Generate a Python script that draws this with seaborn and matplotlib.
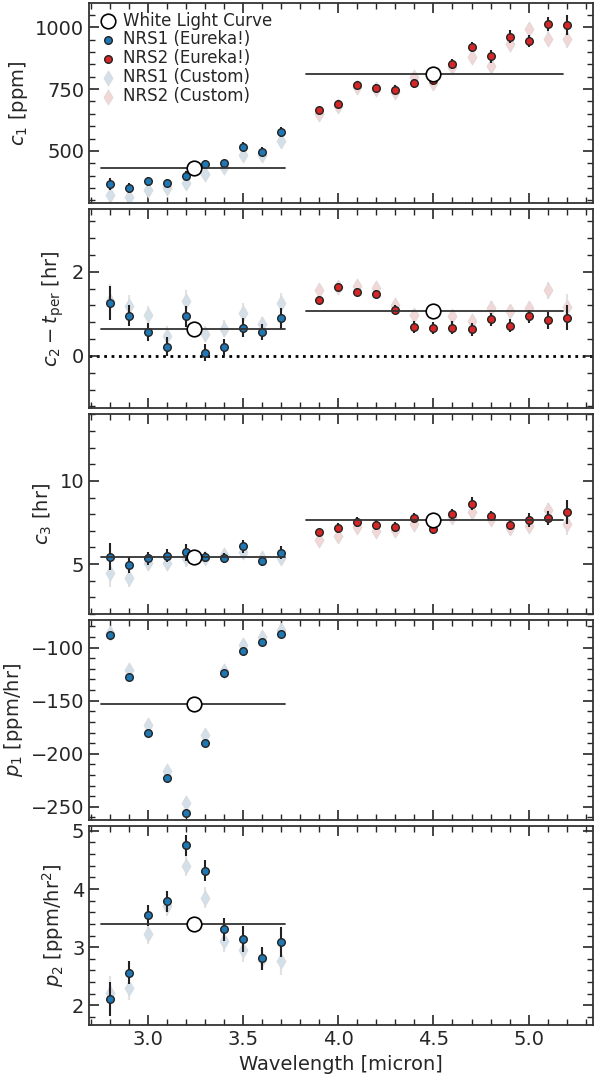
import numpy as np
import matplotlib
matplotlib.use("Agg")
import matplotlib.pyplot as plt
import seaborn as sns
from matplotlib.ticker import AutoMinorLocator

sns.set_style("ticks")
plt.rcParams['font.family'] = ['DejaVu Sans']

wl1 = [2.8, 2.9, 3.0, 3.1, 3.2, 3.3, 3.4, 3.5, 3.6, 3.7]
wl2 = [3.9, 4.0, 4.1, 4.2, 4.3, 4.4, 4.5, 4.6, 4.7, 4.8, 4.9, 5.0, 5.1, 5.2]
wl_white = [3.24, 4.5]
span1 = [2.75, 3.72]
span2 = [3.83, 5.18]

# c1
c1_e1 = [366, 349, 378, 370, 399, 445, 450, 517, 496, 576]
c1_e1err = [25, 20, 18, 18, 18, 18, 15, 18, 18, 20]
c1_c1 = [323, 315, 340, 349, 370, 408, 433, 483, 483, 538]
c1_e2 = [664, 689, 765, 756, 748, 773, 786, 853, 920, 882, 962, 945, 1013, 1008]
c1_e2err = [15, 15, 15, 15, 18, 18, 20, 20, 22, 25, 25, 25, 30, 40]
c1_c2 = [650, 680, 760, 750, 740, 798, 773, 840, 878, 845, 933, 992, 954, 954]
c1_white = [429, 811]

# c2 - t_per
c2_e1 = [1.26, 0.96, 0.57, 0.22, 0.94, 0.08, 0.20, 0.67, 0.57, 0.90]
c2_e1err = [0.4, 0.25, 0.22, 0.22, 0.25, 0.2, 0.2, 0.22, 0.18, 0.25]
c2_c1 = [1.31, 1.19, 0.97, 0.48, 1.31, 0.52, 0.65, 1.03, 0.75, 1.25]
c2_e2 = [1.33, 1.64, 1.52, 1.48, 1.10, 0.69, 0.66, 0.67, 0.63, 0.87, 0.72, 0.94, 0.85, 0.91]
c2_e2err = [0.1, 0.08, 0.1, 0.1, 0.1, 0.15, 0.15, 0.15, 0.15, 0.15, 0.15, 0.15, 0.2, 0.3]
c2_c2 = [1.56, 1.65, 1.67, 1.61, 1.21, 0.97, 1.07, 0.95, 0.82, 1.15, 1.07, 1.13, 1.56, 1.17]
c2_white = [0.63, 1.07]

# c3
c3_e1 = [5.44, 4.94, 5.34, 5.50, 5.71, 5.44, 5.34, 6.07, 5.20, 5.69]
c3_e1err = [0.8, 0.5, 0.4, 0.4, 0.5, 0.3, 0.3, 0.4, 0.3, 0.4]
c3_c1 = [4.44, 4.15, 5.04, 5.04, 5.34, 5.34, 5.54, 5.73, 5.34, 5.34]
c3_e2 = [6.92, 7.18, 7.56, 7.38, 7.22, 7.76, 7.10, 8.00, 8.63, 7.90, 7.36, 7.66, 7.78, 8.13]
c3_e2err = [0.2, 0.3, 0.3, 0.3, 0.3, 0.3, 0.3, 0.3, 0.4, 0.3, 0.3, 0.4, 0.4, 0.7]
c3_c2 = [6.47, 6.67, 7.22, 6.98, 7.06, 7.42, 7.62, 7.82, 8.12, 7.72, 7.18, 7.32, 8.25, 7.42]
c3_white = [5.44, 7.68]

# p1
p1_e1 = [-88, -128, -180, -223, -256, -190, -124, -103, -95, -87]
p1_e1err = [1.5] * 10
p1_c1 = [-86, -121, -173, -216, -246, -182, -122, -98, -90, -83]
p1_white = [-153]

# p2
p2_e1 = [2.11, 2.56, 3.55, 3.79, 4.75, 4.31, 3.31, 3.14, 2.81, 3.09]
p2_e1err = [0.3, 0.2, 0.18, 0.18, 0.18, 0.18, 0.2, 0.22, 0.2, 0.25]
p2_c1 = [2.21, 2.30, 3.23, 3.71, 4.40, 3.85, 3.11, 2.96, 2.80, 2.77]
p2_white = [3.40]

blue = '#1f77b4'
red = '#d62728'
lblue = '#d3e0ea'
lred = '#f3d6d6'

fig, axes = plt.subplots(5, 1, figsize=(5.95, 10.78), dpi=100, sharex=True)
fig.subplots_adjust(left=0.15, right=0.997, top=0.997, bottom=0.049, hspace=0.03)


def draw(ax, e1, e1err, c1, e2, e2err, c2, white, legend=False):
    ax.errorbar(wl1, c1, yerr=e1err, fmt='none', ecolor='#e2e2e2', elinewidth=1.5, zorder=1)
    sns.scatterplot(x=wl1, y=c1, ax=ax, marker='d', s=60, color=lblue, edgecolor='#d8d8d8',
                    linewidth=0.5, zorder=2, label='NRS1 (Custom)' if legend else None)
    ax.errorbar(wl1, e1, yerr=e1err, fmt='none', ecolor='#222222', elinewidth=1.5, zorder=3)
    sns.scatterplot(x=wl1, y=e1, ax=ax, marker='o', s=30, color=blue, edgecolor='#222222',
                    linewidth=1, zorder=4, label='NRS1 (Eureka!)' if legend else None)
    if e2 is not None:
        ax.errorbar(wl2, c2, yerr=e2err, fmt='none', ecolor='#e2e2e2', elinewidth=1.5, zorder=1)
        sns.scatterplot(x=wl2, y=c2, ax=ax, marker='d', s=60, color=lred, edgecolor='#d8d8d8',
                        linewidth=0.5, zorder=2, label='NRS2 (Custom)' if legend else None)
        ax.errorbar(wl2, e2, yerr=e2err, fmt='none', ecolor='#222222', elinewidth=1.5, zorder=3)
        sns.scatterplot(x=wl2, y=e2, ax=ax, marker='o', s=30, color=red, edgecolor='#222222',
                        linewidth=1, zorder=4, label='NRS2 (Eureka!)' if legend else None)
    spans = [span1, span2][:len(white)]
    for sp, w in zip(spans, white):
        ax.plot(sp, [w, w], color='#333333', lw=1.3, zorder=5)
    sns.scatterplot(x=wl_white[:len(white)], y=white, ax=ax, marker='o', s=110, color='white',
                    edgecolor='black', linewidth=1.2, zorder=6,
                    label='White Light Curve' if legend else None)
    ax.tick_params(which='both', direction='in', top=True, right=True, labelsize=14)
    ax.tick_params(which='major', length=7, width=1.2)
    ax.tick_params(which='minor', length=4, width=1)
    ax.xaxis.set_minor_locator(AutoMinorLocator(5))
    ax.yaxis.set_minor_locator(AutoMinorLocator(5))
    for s in ax.spines.values():
        s.set_linewidth(1.3)
        s.set_color('#333333')


draw(axes[0], c1_e1, c1_e1err, c1_c1, c1_e2, c1_e2err, c1_c2, c1_white, legend=True)
axes[0].set_ylim(290, 1097)
axes[0].set_yticks([500, 750, 1000])
axes[0].set_ylabel(r'$c_1$ [ppm]', fontsize=14)
h, l = axes[0].get_legend_handles_labels()
order = ['White Light Curve', 'NRS1 (Eureka!)', 'NRS2 (Eureka!)', 'NRS1 (Custom)', 'NRS2 (Custom)']
hd = dict(zip(l, h))
axes[0].legend([hd[k] for k in order], order, loc='upper left', frameon=False, fontsize=12,
               handletextpad=0.3, labelspacing=0.05, borderpad=0.2, handlelength=1.2,
               borderaxespad=0.3)

draw(axes[1], c2_e1, c2_e1err, c2_c1, c2_e2, c2_e2err, c2_c2, c2_white)
axes[1].axhline(0, color='black', ls=':', lw=2, zorder=0)
axes[1].set_ylim(-1.25, 3.5)
axes[1].set_yticks([0, 2])
axes[1].set_ylabel(r'$c_2 - t_{\rm per}$ [hr]', fontsize=14)

draw(axes[2], c3_e1, c3_e1err, c3_c1, c3_e2, c3_e2err, c3_c2, c3_white)
axes[2].set_ylim(2, 14)
axes[2].set_yticks([5, 10])
axes[2].set_ylabel(r'$c_3$ [hr]', fontsize=14)

draw(axes[3], p1_e1, p1_e1err, p1_c1, None, None, None, p1_white)
axes[3].set_ylim(-262, -74)
axes[3].set_yticks([-250, -200, -150, -100])
axes[3].set_ylabel(r'$p_1$ [ppm/hr]', fontsize=14)

draw(axes[4], p2_e1, p2_e1err, p2_c1, None, None, None, p2_white)
axes[4].set_ylim(1.66, 5.09)
axes[4].set_yticks([2, 3, 4, 5])
axes[4].set_ylabel(r'$p_2$ [ppm/hr$^2$]', fontsize=14)
axes[4].set_xlim(2.69, 5.34)
axes[4].set_xticks([3.0, 3.5, 4.0, 4.5, 5.0])
axes[4].set_xlabel('Wavelength [micron]', fontsize=14)

fig.savefig('out.png', dpi=100)
